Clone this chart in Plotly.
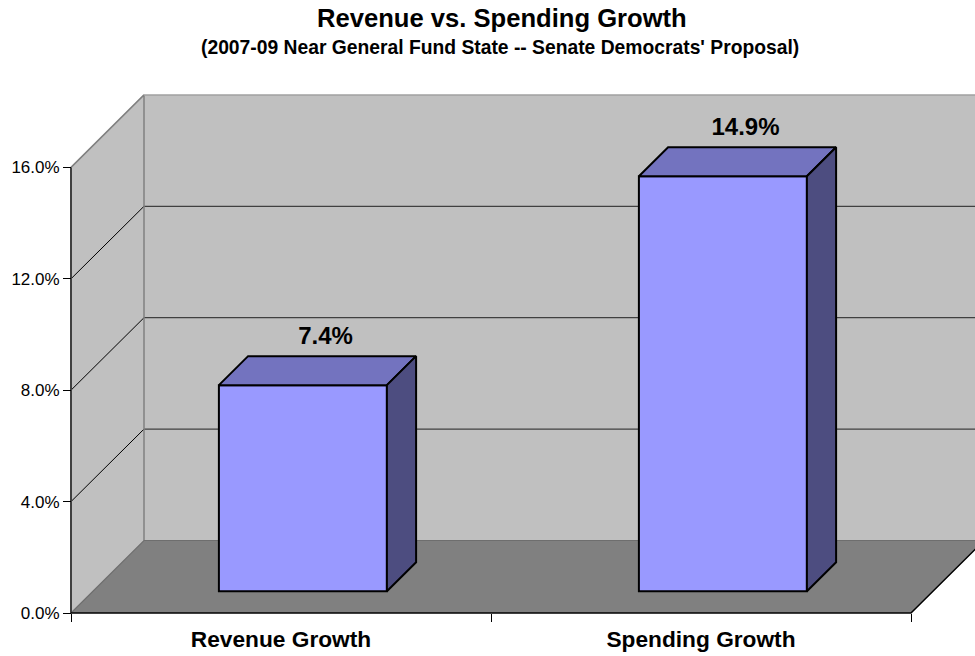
import plotly.graph_objects as go

# Data
categories = ["Revenue Growth", "Spending Growth"]
values = [7.4, 14.9]
value_labels = ["7.4%", "14.9%"]
y_ticks = [0, 4, 8, 12, 16]
y_tick_labels = ["0.0%", "4.0%", "8.0%", "12.0%", "16.0%"]
title_text = "Revenue vs. Spending Growth"
subtitle_text = "(2007-09 Near General Fund State -- Senate Democrats' Proposal)"

# Page and 3-D projection settings
W, H = 975, 656
X0_PX, X_UNIT_PX = 71.0, 420.0      # left edge of the front plane, px per category
Y0_PX, Y_UNIT_PX = 613.0, 27.85     # zero line on the page, px per percentage point
DEPTH_PX_X, DEPTH_PX_Y = 73.0, 72.5
BAR_WIDTH = 0.40
BAR_FRONT, BAR_BACK = 0.30, 0.70    # share of the depth where a bar starts and ends
Y_MAX = y_ticks[-1]

FONT = "Liberation Sans, Arial, sans-serif"
WALL = "#c0c0c0"
FLOOR = "#808080"
FRONT = "#9999ff"
TOP = "#7373bf"
SIDE = "#4d4d80"

x_left = -0.5
x_right = len(categories) - 0.5
x_range = [x_left - X0_PX / X_UNIT_PX, x_left + (W - X0_PX) / X_UNIT_PX]
y_range = [-(H - Y0_PX) / Y_UNIT_PX, Y0_PX / Y_UNIT_PX]
dx = DEPTH_PX_X / X_UNIT_PX
dy = DEPTH_PX_Y / Y_UNIT_PX

fig = go.Figure()


def poly(xs, ys, fill=None, line=None, lw=1.0, axis="x"):
    closed = fill is not None
    fig.add_trace(go.Scatter(
        x=xs + xs[:1] if closed else xs,
        y=ys + ys[:1] if closed else ys,
        xaxis=axis, yaxis="y", mode="lines",
        fill="toself" if closed else None,
        fillcolor=fill,
        line=dict(color=line or "rgba(0,0,0,0)", width=lw),
        hoverinfo="skip", showlegend=False,
    ))


# Walls and floor
poly([x_left + dx, x_right + dx, x_right + dx, x_left + dx], [dy, dy, Y_MAX + dy, Y_MAX + dy], WALL)
poly([x_left, x_left + dx, x_left + dx, x_left], [0, dy, Y_MAX + dy, Y_MAX], WALL)
poly([x_left, x_right, x_right + dx, x_left + dx], [0, 0, dy, dy], FLOOR)

# Grid lines on both walls
for t in y_ticks[1:-1]:
    poly([x_left, x_left + dx], [t, t + dy], line="#000000", lw=1)
    poly([x_left + dx, x_right + dx], [t + dy, t + dy], line="#404040", lw=1.2)

# Wall edges
poly([x_left, x_left + dx, x_left + dx], [Y_MAX, Y_MAX + dy, dy], line="#808080", lw=1.5)
poly([x_left + dx, x_right + dx], [Y_MAX + dy, Y_MAX + dy], line="#a0a0a0", lw=1.5)
poly([x_left, x_left + dx, x_right + dx], [0, dy, dy], line="#6e6e6e", lw=1.2)
poly([x_left, x_left], [0, Y_MAX], line="#404040", lw=2)
poly([x_left, x_right, x_right + dx], [0, 0, dy], line="#000000", lw=1.5)

# Front faces of the bars, on the category axis
base = BAR_FRONT * dy
x_shift = BAR_FRONT * dx
fig.add_trace(go.Bar(
    x=categories, y=values, base=[base] * len(values),
    width=[BAR_WIDTH] * len(values),
    offset=[x_shift - BAR_WIDTH / 2] * len(values),
    xaxis="x2", yaxis="y",
    marker=dict(color=FRONT, line=dict(color="#000000", width=2)),
    hoverinfo="skip", showlegend=False,
))

# Top and side faces of the bars
bar_dx = (BAR_BACK - BAR_FRONT) * dx
bar_dy = (BAR_BACK - BAR_FRONT) * dy
for i, v in enumerate(values):
    l = i - BAR_WIDTH / 2 + x_shift
    r = i + BAR_WIDTH / 2 + x_shift
    t = base + v
    poly([l, r, r + bar_dx, l + bar_dx], [t, t, t + bar_dy, t + bar_dy], TOP, "#000000", 2, "x3")
    poly([r, r + bar_dx, r + bar_dx, r], [base, base + bar_dy, t + bar_dy, t], SIDE, "#000000", 2, "x3")

# Value labels above the bars
fig.add_trace(go.Scatter(
    x=[i + x_shift + (BAR_WIDTH + bar_dx) / 2 - BAR_WIDTH / 2 + 8 / X_UNIT_PX for i in range(len(values))],
    y=[base + v + bar_dy + 18 / Y_UNIT_PX for v in values],
    text=[f"<b>{s}</b>" for s in value_labels],
    mode="text", textposition="middle center",
    textfont=dict(family=FONT, size=24, color="#000000"),
    xaxis="x3", yaxis="y", hoverinfo="skip", showlegend=False, cliponaxis=False,
))

hidden = dict(visible=False, range=x_range, fixedrange=True)
fig.update_layout(
    width=W, height=H, autosize=False,
    margin=dict(l=0, r=0, t=0, b=0, pad=0),
    paper_bgcolor="#ffffff", plot_bgcolor="#ffffff",
    showlegend=False,
    barmode="overlay",
    font=dict(family=FONT, color="#000000"),
    xaxis=dict(domain=[0, 1], **hidden),
    xaxis3=dict(overlaying="x", **hidden),
    xaxis2=dict(
        overlaying="x", type="category", categoryorder="array", categoryarray=categories,
        range=x_range, anchor="free", position=1 - Y0_PX / H,
        showgrid=False, zeroline=False, showline=False,
        ticks="outside", ticklen=8, tickwidth=1, tickcolor="#000000", tickson="boundaries",
        ticklabelstandoff=10,
        tickfont=dict(family=FONT, size=22.7, color="#000000", weight="bold"),
        fixedrange=True,
    ),
    yaxis=dict(
        domain=[0, 1], range=y_range, anchor="free", position=X0_PX / W,
        tickmode="array", tickvals=y_ticks, ticktext=y_tick_labels,
        showgrid=False, zeroline=False, showline=False,
        ticks="outside", ticklen=8, tickwidth=1, tickcolor="#000000",
        tickfont=dict(family=FONT, size=17, color="#000000"),
        fixedrange=True,
    ),
    annotations=[
        dict(text=f"<b>{title_text}</b>", xref="paper", yref="paper", x=502 / W, y=1 - 18 / H,
             xanchor="center", yanchor="middle", showarrow=False,
             font=dict(family=FONT, size=25.6, color="#000000")),
        dict(text=f"<b>{subtitle_text}</b>", xref="paper", yref="paper", x=499.5 / W, y=1 - 48 / H,
             xanchor="center", yanchor="middle", showarrow=False,
             font=dict(family=FONT, size=19.3, color="#000000")),
    ],
)

fig.write_html("out.html", post_script="document.body.style.margin='0';document.body.style.overflow='hidden';",
               config=dict(displayModeBar=False))
